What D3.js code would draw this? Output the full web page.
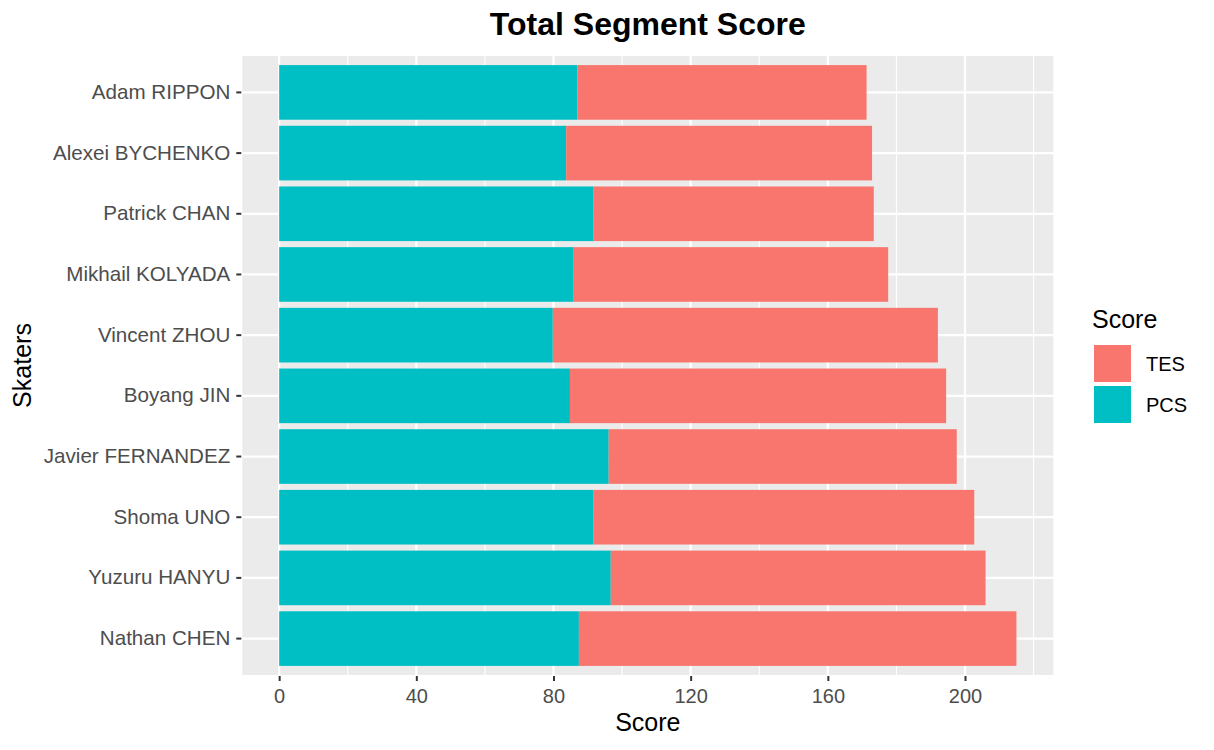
<!DOCTYPE html>
<html>
<head>
<meta charset="utf-8">
<script src="https://cdn.jsdelivr.net/npm/d3@7"></script>
<style>
  body { margin: 0; background: #fff; }
  text { font-family: "Liberation Sans", Arial, Helvetica, sans-serif; }
</style>
</head>
<body>
<svg id="chart" width="1214" height="750"></svg>
<script>
// ---- data ----
const skaters = ["Adam RIPPON", "Alexei BYCHENKO", "Patrick CHAN", "Mikhail KOLYADA",
  "Vincent ZHOU", "Boyang JIN", "Javier FERNANDEZ", "Shoma UNO", "Yuzuru HANYU", "Nathan CHEN"];
const pcs = [87.0, 83.7, 91.7, 85.9, 79.8, 84.8, 96.1, 91.7, 96.7, 87.4];
const tes = [84.3, 89.2, 81.7, 91.7, 112.3, 109.7, 101.5, 111.0, 109.3, 127.6];
const xTicks = [0, 40, 80, 120, 160, 200];
const xMinor = [20, 60, 100, 140, 180, 220];
const seriesNames = ["TES", "PCS"];
const seriesColors = ["#F8766D", "#00BFC4"];

// ---- layout ----
const W = 1214, H = 750;
const panel = { left: 242.3, right: 1053.3, top: 56, bottom: 675 };

const rows = skaters.map((s, i) => ({ name: s, PCS: pcs[i], TES: tes[i] }));
const maxTotal = d3.max(rows, d => d.PCS + d.TES);

const x = d3.scaleLinear()
  .domain([-0.05 * maxTotal, maxTotal * 1.05])
  .range([panel.left, panel.right]);
const y = d3.scaleBand()
  .domain(skaters)
  .range([panel.top, panel.bottom])
  .paddingInner(0.1)
  .paddingOuter(0.15);

const svg = d3.select("#chart");

// panel background
svg.append("rect")
  .attr("x", panel.left).attr("y", panel.top)
  .attr("width", panel.right - panel.left).attr("height", panel.bottom - panel.top)
  .attr("fill", "#EBEBEB");

// grid lines
const grid = svg.append("g");
grid.selectAll("line.minor").data(xMinor.filter(v => x(v) <= panel.right)).join("line")
  .attr("class", "minor")
  .attr("x1", d => x(d)).attr("x2", d => x(d))
  .attr("y1", panel.top).attr("y2", panel.bottom)
  .attr("stroke", "#fff").attr("stroke-width", 1.1);
grid.selectAll("line.majx").data(xTicks).join("line")
  .attr("class", "majx")
  .attr("x1", d => x(d)).attr("x2", d => x(d))
  .attr("y1", panel.top).attr("y2", panel.bottom)
  .attr("stroke", "#fff").attr("stroke-width", 2.2);
grid.selectAll("line.majy").data(skaters).join("line")
  .attr("class", "majy")
  .attr("x1", panel.left).attr("x2", panel.right)
  .attr("y1", d => y(d) + y.bandwidth() / 2).attr("y2", d => y(d) + y.bandwidth() / 2)
  .attr("stroke", "#fff").attr("stroke-width", 2.2);

// stacked bars
const stack = d3.stack().keys(["PCS", "TES"]);
const stacked = stack(rows);
const color = d3.scaleOrdinal().domain(seriesNames).range(seriesColors);
svg.append("g").selectAll("g").data(stacked).join("g")
  .attr("fill", d => color(d.key))
  .selectAll("rect").data(d => d).join("rect")
  .attr("x", d => x(d[0]))
  .attr("width", d => x(d[1]) - x(d[0]))
  .attr("y", d => y(d.data.name))
  .attr("height", y.bandwidth());

// x axis
const xAxis = d3.axisBottom(x).tickValues(xTicks).tickSize(5).tickPadding(3);
const gx = svg.append("g").attr("transform", `translate(0,${panel.bottom + 1})`).call(xAxis);
gx.select(".domain").remove();
gx.selectAll(".tick line").attr("stroke", "#333333").attr("stroke-width", 2);
gx.selectAll(".tick text").attr("fill", "#4D4D4D").attr("font-size", 20)
  .attr("font-family", "Liberation Sans, Arial, sans-serif").attr("dy", "0.93em");

// y axis
const yAxis = d3.axisLeft(y).tickSize(5).tickPadding(6);
const gy = svg.append("g").attr("transform", `translate(${panel.left - 1},0)`).call(yAxis);
gy.select(".domain").remove();
gy.selectAll(".tick line").attr("stroke", "#333333").attr("stroke-width", 2);
gy.selectAll(".tick text").attr("fill", "#4D4D4D").attr("font-size", 20.6)
  .attr("font-family", "Liberation Sans, Arial, sans-serif");

// axis titles
svg.append("text")
  .attr("x", (panel.left + panel.right) / 2).attr("y", 731)
  .attr("text-anchor", "middle").attr("font-size", 25).attr("fill", "#000")
  .text("Score");
svg.append("text")
  .attr("transform", `translate(31,${(panel.top + panel.bottom) / 2}) rotate(-90)`)
  .attr("text-anchor", "middle").attr("font-size", 25).attr("fill", "#000")
  .text("Skaters");

// title
svg.append("text")
  .attr("x", (panel.left + panel.right) / 2).attr("y", 35)
  .attr("text-anchor", "middle").attr("font-size", 32).attr("font-weight", "bold").attr("fill", "#000")
  .text("Total Segment Score");

// legend
const lg = svg.append("g");
lg.append("text").attr("x", 1092).attr("y", 328).attr("font-size", 25).attr("fill", "#000").text("Score");
const items = lg.selectAll("g.item").data(seriesNames).join("g")
  .attr("class", "item")
  .attr("transform", (d, i) => `translate(1094,${345 + i * 41})`);
items.append("rect").attr("width", 37).attr("height", 37).attr("fill", d => color(d));
items.append("text").attr("x", 52).attr("y", 26).attr("font-size", 20).attr("fill", "#000").text(d => d);
</script>
</body>
</html>
